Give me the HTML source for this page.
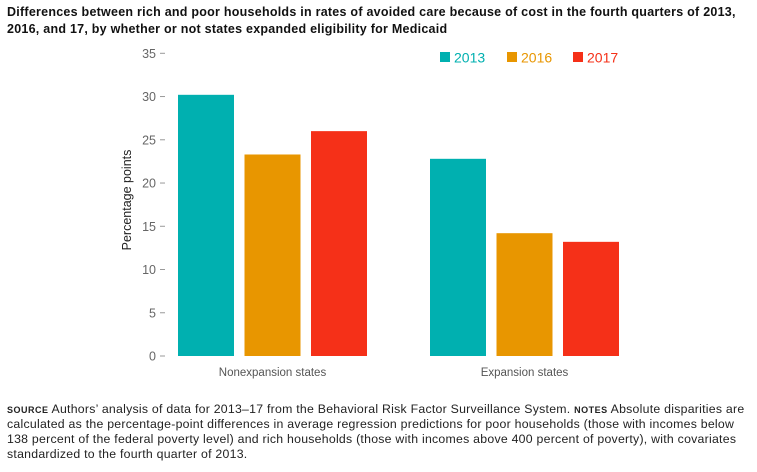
<!DOCTYPE html>
<html><head><meta charset="utf-8"><style>
body{margin:0;background:#fff;width:757px;height:472px;overflow:hidden;font-family:"Liberation Sans",sans-serif}
#title{position:absolute;left:7px;top:4px;width:750px;font-weight:bold;font-size:12.5px;line-height:17px;color:#111;letter-spacing:0.25px}
#notes{position:absolute;left:7px;top:402px;width:750px;font-size:12.3px;line-height:15px;color:#222;letter-spacing:0.25px;white-space:nowrap}
.sc{font-variant:small-caps;font-weight:bold;letter-spacing:.5px}
svg{position:absolute;left:0;top:0}
</style></head><body>
<div id="title">Differences between rich and poor households in rates of avoided care because of cost in the fourth quarters of 2013,<br>2016, and 17, by whether or not states expanded eligibility for Medicaid</div>
<svg id="chart" width="757" height="400"></svg>
<div id="notes"><span class="sc">source</span> Authors’ analysis of data for 2013–17 from the Behavioral Risk Factor Surveillance System. <span class="sc">notes</span> Absolute disparities are<br>calculated as the percentage-point differences in average regression predictions for poor households (those with incomes below<br>138 percent of the federal poverty level) and rich households (those with incomes above 400 percent of poverty), with covariates<br>standardized to the fourth quarter of 2013.</div>
<script>
const categories=["Nonexpansion states","Expansion states"];
const seriesNames=["2013","2016","2017"];
const v2013=[30.2,22.8];
const v2016=[23.3,14.2];
const v2017=[26.0,13.2];
const yTicks=[0,5,10,15,20,25,30,35];
const colors=["#00b0b0","#e89600","#f53018"];
const series=[v2013,v2016,v2017];
const svg=document.getElementById('chart');
const NS='http://www.w3.org/2000/svg';
const y0=356,y35=53.3;
function y(v){return y0-(y0-y35)*v/35;}
const groupStart=[178,430],barW=56,step=66.5;
function x(ci,si){return groupStart[ci]+si*step;}
function mk(t,a,txt){const e=document.createElementNS(NS,t);for(const k in a)e.setAttribute(k,a[k]);if(txt!=null)e.textContent=txt;svg.appendChild(e);return e;}
yTicks.forEach(t=>{
  const l=mk('line',{x1:160,x2:165,y1:y(t),y2:y(t),stroke:'#999','stroke-width':1});
  
  
  const tx=mk('text',{x:156,y:y(t)+4.5,'text-anchor':'end','font-size':12.5,fill:'#666'},t);
  
  
});
const yt=mk('text',{x:0,y:0,transform:'translate(131,200) rotate(-90)','text-anchor':'middle','font-size':12.5,fill:'#222'},'Percentage points');


categories.forEach((c,ci)=>{
  series.forEach((s,si)=>{
    const r=mk('rect',{x:x(ci,si),y:y(s[ci]),width:barW,height:y(0)-y(s[ci]),fill:colors[si]});
    
    
  });
  const cx=groupStart[ci]+(2*step+barW)/2;
  const t=mk('text',{x:cx,y:376,'text-anchor':'middle','font-size':11.5,fill:'#555'},c);
  
  
});
const legX=[440,507,573];
seriesNames.forEach((n,i)=>{
  const r=mk('rect',{x:legX[i],y:52,width:10,height:10,fill:colors[i]});
  
  
  const t=mk('text',{x:legX[i]+14,y:62.5,'font-size':14,fill:colors[i]},n);
  
  
});
</script>
</body></html>
